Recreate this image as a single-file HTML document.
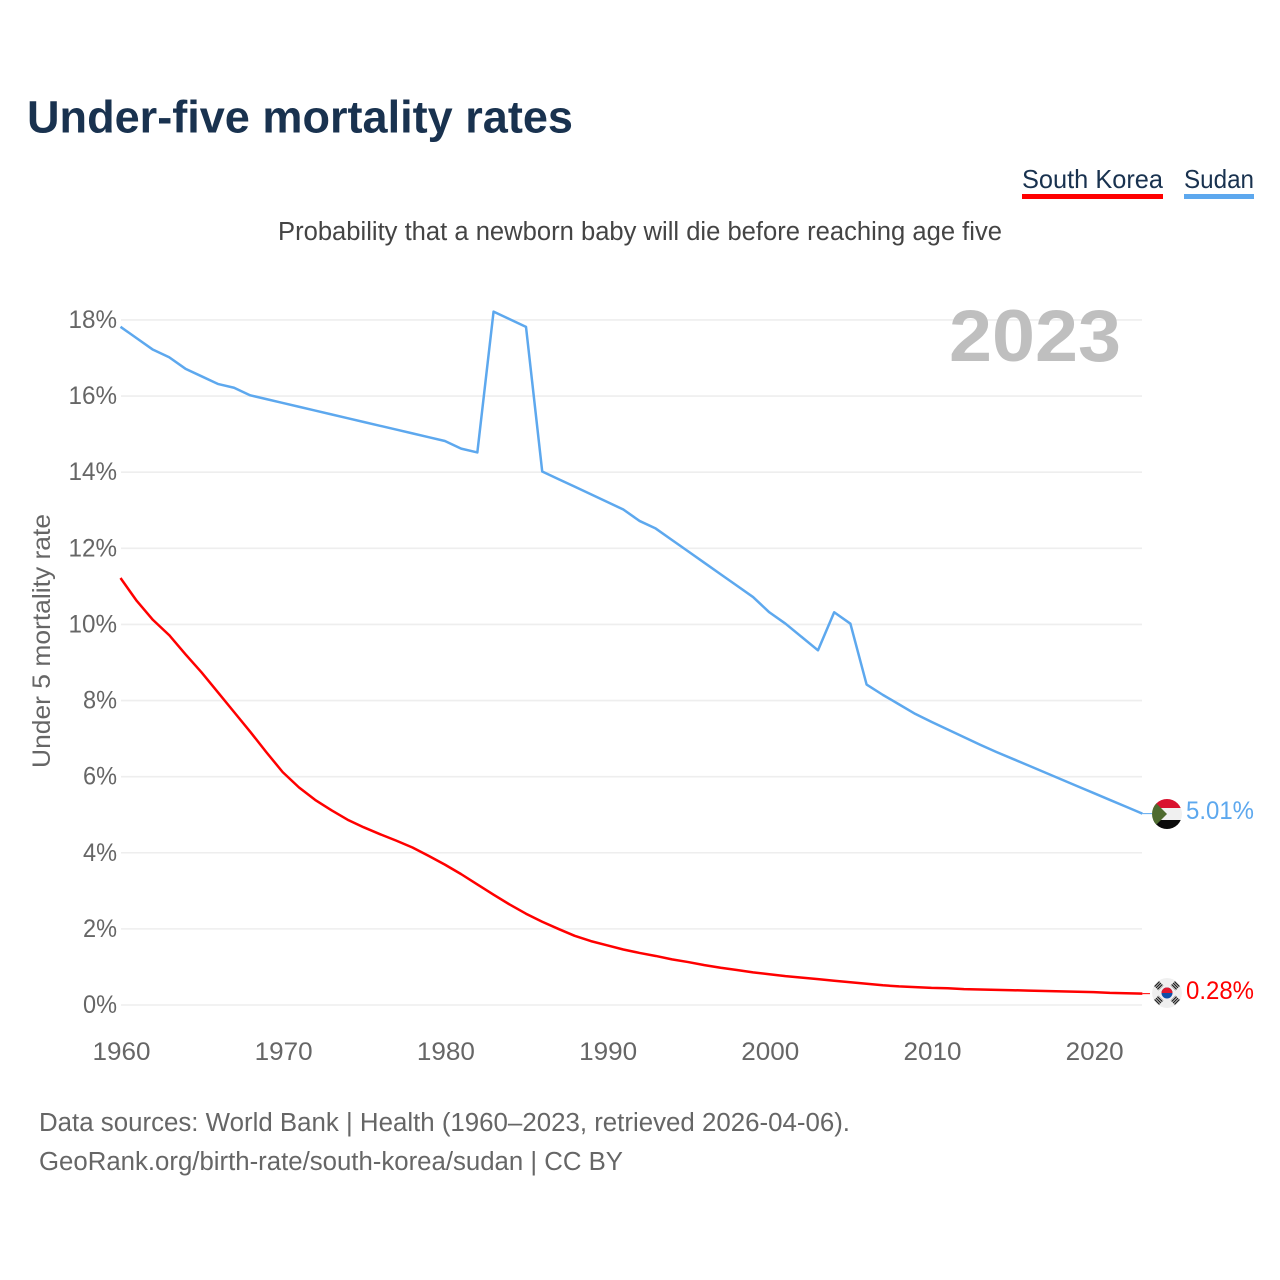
<!DOCTYPE html>
<html lang="en">
<head>
<meta charset="utf-8">
<title>Under-five mortality rates</title>
<style>
html,body{margin:0;padding:0;background:#fff;width:1280px;height:1280px;overflow:hidden}
svg{display:block}
text{font-family:"Liberation Sans",sans-serif}
</style>
</head>
<body>
<svg id="chart" xmlns="http://www.w3.org/2000/svg" width="1280" height="1280" viewBox="0 0 1280 1280">
  <defs>
    <clipPath id="flag-clip-sudan"><circle cx="1167" cy="814" r="15"/></clipPath>
    <clipPath id="flag-clip-korea"><circle cx="1167" cy="993" r="15"/></clipPath>
  </defs>
  <rect width="1280" height="1280" fill="#fff"/>
  <text x="27" y="132.5" font-size="45" font-weight="700" fill="#19324f" textLength="546" lengthAdjust="spacingAndGlyphs">Under-five mortality rates</text>

  <g>
    <g>
      <text x="1022" y="188" font-size="26" fill="#19324f" textLength="141" lengthAdjust="spacingAndGlyphs">South Korea</text>
      <rect x="1022" y="194" width="141" height="5" fill="#ff0000"/>
    </g>
    <g>
      <text x="1184" y="188" font-size="26" fill="#19324f" textLength="70" lengthAdjust="spacingAndGlyphs">Sudan</text>
      <rect x="1184" y="194" width="70" height="5" fill="#5da8ee"/>
    </g>
  </g>

  <text x="278" y="240" font-size="25.5" fill="#444" textLength="724" lengthAdjust="spacingAndGlyphs">Probability that a newborn baby will die before reaching age five</text>

  <g id="grid"></g>
  <g id="yticks"></g>
  <g id="xticks"></g>

  <text transform="translate(50,641) rotate(-90)" text-anchor="middle" font-size="25" fill="#666" textLength="254" lengthAdjust="spacingAndGlyphs">Under 5 mortality rate</text>

  <text x="949" y="361" font-size="73" font-weight="700" fill="#bfbfbf" textLength="172" lengthAdjust="spacingAndGlyphs">2023</text>

  <g id="series"></g>

  <g>
    <g clip-path="url(#flag-clip-sudan)">
      <rect x="1152" y="799" width="30" height="9" fill="#d9122f"/>
      <rect x="1152" y="808" width="30" height="12" fill="#f0f0f0"/>
      <rect x="1152" y="820" width="30" height="9" fill="#0a0a0a"/>
      <polygon points="1152,799 1167,814 1152,829" fill="#4e6b2f"/>
    </g>
    <text x="1186" y="819" font-size="25" fill="#5da8ee" textLength="68" lengthAdjust="spacingAndGlyphs">5.01%</text>
  </g>

  <g>
    <g clip-path="url(#flag-clip-korea)">
      <circle cx="1167" cy="993" r="15" fill="#efefef"/>
      <circle cx="1167" cy="993" r="5.5" fill="#0f4fa8"/>
      <path d="M1161.5 993a5.5 5.5 0 0 1 11 0z" fill="#e0182d"/>
      <g stroke="#222" stroke-width="7" stroke-dasharray="1.3 0.7">
        <line x1="1156.6" y1="983.6" x2="1161" y2="988"/>
        <line x1="1177.4" y1="983.6" x2="1173" y2="988"/>
        <line x1="1156.6" y1="1002.4" x2="1161" y2="998"/>
        <line x1="1177.4" y1="1002.4" x2="1173" y2="998"/>
      </g>
    </g>
    <text x="1186" y="999" font-size="25" fill="#ff0000" textLength="68" lengthAdjust="spacingAndGlyphs">0.28%</text>
  </g>

  <text x="39" y="1131" font-size="25.5" fill="#666" textLength="811" lengthAdjust="spacingAndGlyphs">Data sources: World Bank | Health (1960–2023, retrieved 2026-04-06).</text>
  <text x="39" y="1170" font-size="25.5" fill="#666" textLength="584" lengthAdjust="spacingAndGlyphs">GeoRank.org/birth-rate/south-korea/sudan | CC BY</text>
</svg>
<script>
const startYear = 1960;
const xTickYears = [1960, 1970, 1980, 1990, 2000, 2010, 2020];
const yTickValues = [0, 2, 4, 6, 8, 10, 12, 14, 16, 18];
const sudanValues = [17.8,17.5,17.2,17.0,16.7,16.5,16.3,16.2,16.0,15.9,15.8,15.7,15.6,15.5,15.4,15.3,15.2,15.1,15.0,14.9,14.8,14.6,14.5,18.2,18.0,17.8,14.0,13.8,13.6,13.4,13.2,13.0,12.7,12.5,12.2,11.9,11.6,11.3,11.0,10.7,10.3,10.0,9.65,9.3,10.3,10.0,8.4,8.13,7.88,7.63,7.42,7.22,7.02,6.82,6.63,6.45,6.27,6.09,5.91,5.73,5.55,5.37,5.19,5.01];
const koreaValues = [11.2,10.6,10.1,9.7,9.2,8.72,8.2,7.68,7.16,6.62,6.1,5.7,5.37,5.1,4.85,4.65,4.47,4.3,4.12,3.9,3.67,3.42,3.15,2.88,2.62,2.38,2.17,1.98,1.8,1.66,1.55,1.44,1.35,1.27,1.18,1.11,1.03,0.96,0.9,0.84,0.79,0.74,0.7,0.66,0.62,0.58,0.54,0.5,0.47,0.45,0.43,0.42,0.4,0.39,0.38,0.37,0.36,0.35,0.34,0.33,0.32,0.3,0.29,0.28];

const NS = 'http://www.w3.org/2000/svg';
const xScale = function (year) { return 120.5 + (year - 1960) * 16.22; };
const yScale = function (v) { return 1005 - v * 38.06; };
const lineY = function (v) { return yScale(v) - 0.7; };

function make(tag, attrs, parent, text) {
  const el = document.createElementNS(NS, tag);
  Object.keys(attrs).forEach(function (k) { el.setAttribute(k, attrs[k]); });
  if (text !== undefined) el.textContent = text;
  parent.appendChild(el);
  return el;
}

const grid = document.getElementById('grid');
const yticks = document.getElementById('yticks');
const xticks = document.getElementById('xticks');
const series = document.getElementById('series');

yTickValues.forEach(function (v) {
  const line = make('line', { x1: 121, x2: 1142, y1: yScale(v), y2: yScale(v), stroke: '#eeeeee', 'stroke-width': 1.6 }, grid);
  
  
  const label = String(v) + '%';
  const width = String(v).length * 14.5 + 19.5;
  const t = make('text', { x: 117 - width, y: yScale(v) + 8, 'font-size': 25, fill: '#666', textLength: width, lengthAdjust: 'spacingAndGlyphs' }, yticks, label);
  
  
});

xTickYears.forEach(function (year) {
  const t = make('text', { x: xScale(year) - 28, y: 1060, 'font-size': 25, fill: '#666', textLength: 58, lengthAdjust: 'spacingAndGlyphs' }, xticks, String(year));
  
  
});

function linePath(values) {
  return values.map(function (v, i) {
    return (i ? 'L' : 'M') + xScale(startYear + i).toFixed(2) + ' ' + lineY(v).toFixed(2);
  }).join(' ');
}

const sudanLine = make('path', { d: linePath(sudanValues), fill: 'none', stroke: '#5da8ee', 'stroke-width': 2.5, 'stroke-linejoin': 'round' }, series);



const koreaLine = make('path', { d: linePath(koreaValues), fill: 'none', stroke: '#ff0000', 'stroke-width': 2.5, 'stroke-linejoin': 'round' }, series);



const lastYearX = xScale(startYear + sudanValues.length - 1);
const sudanEndY = lineY(sudanValues[sudanValues.length - 1]);
const koreaEndY = lineY(koreaValues[koreaValues.length - 1]);

const sudanConnector = make('line', { x1: lastYearX, x2: 1152, y1: sudanEndY, y2: sudanEndY, stroke: '#5da8ee', 'stroke-width': 1 }, series);



const koreaConnector = make('line', { x1: lastYearX, x2: 1150, y1: koreaEndY, y2: koreaEndY, stroke: '#ff0000', 'stroke-width': 1 }, series);


</script>
</body>
</html>
